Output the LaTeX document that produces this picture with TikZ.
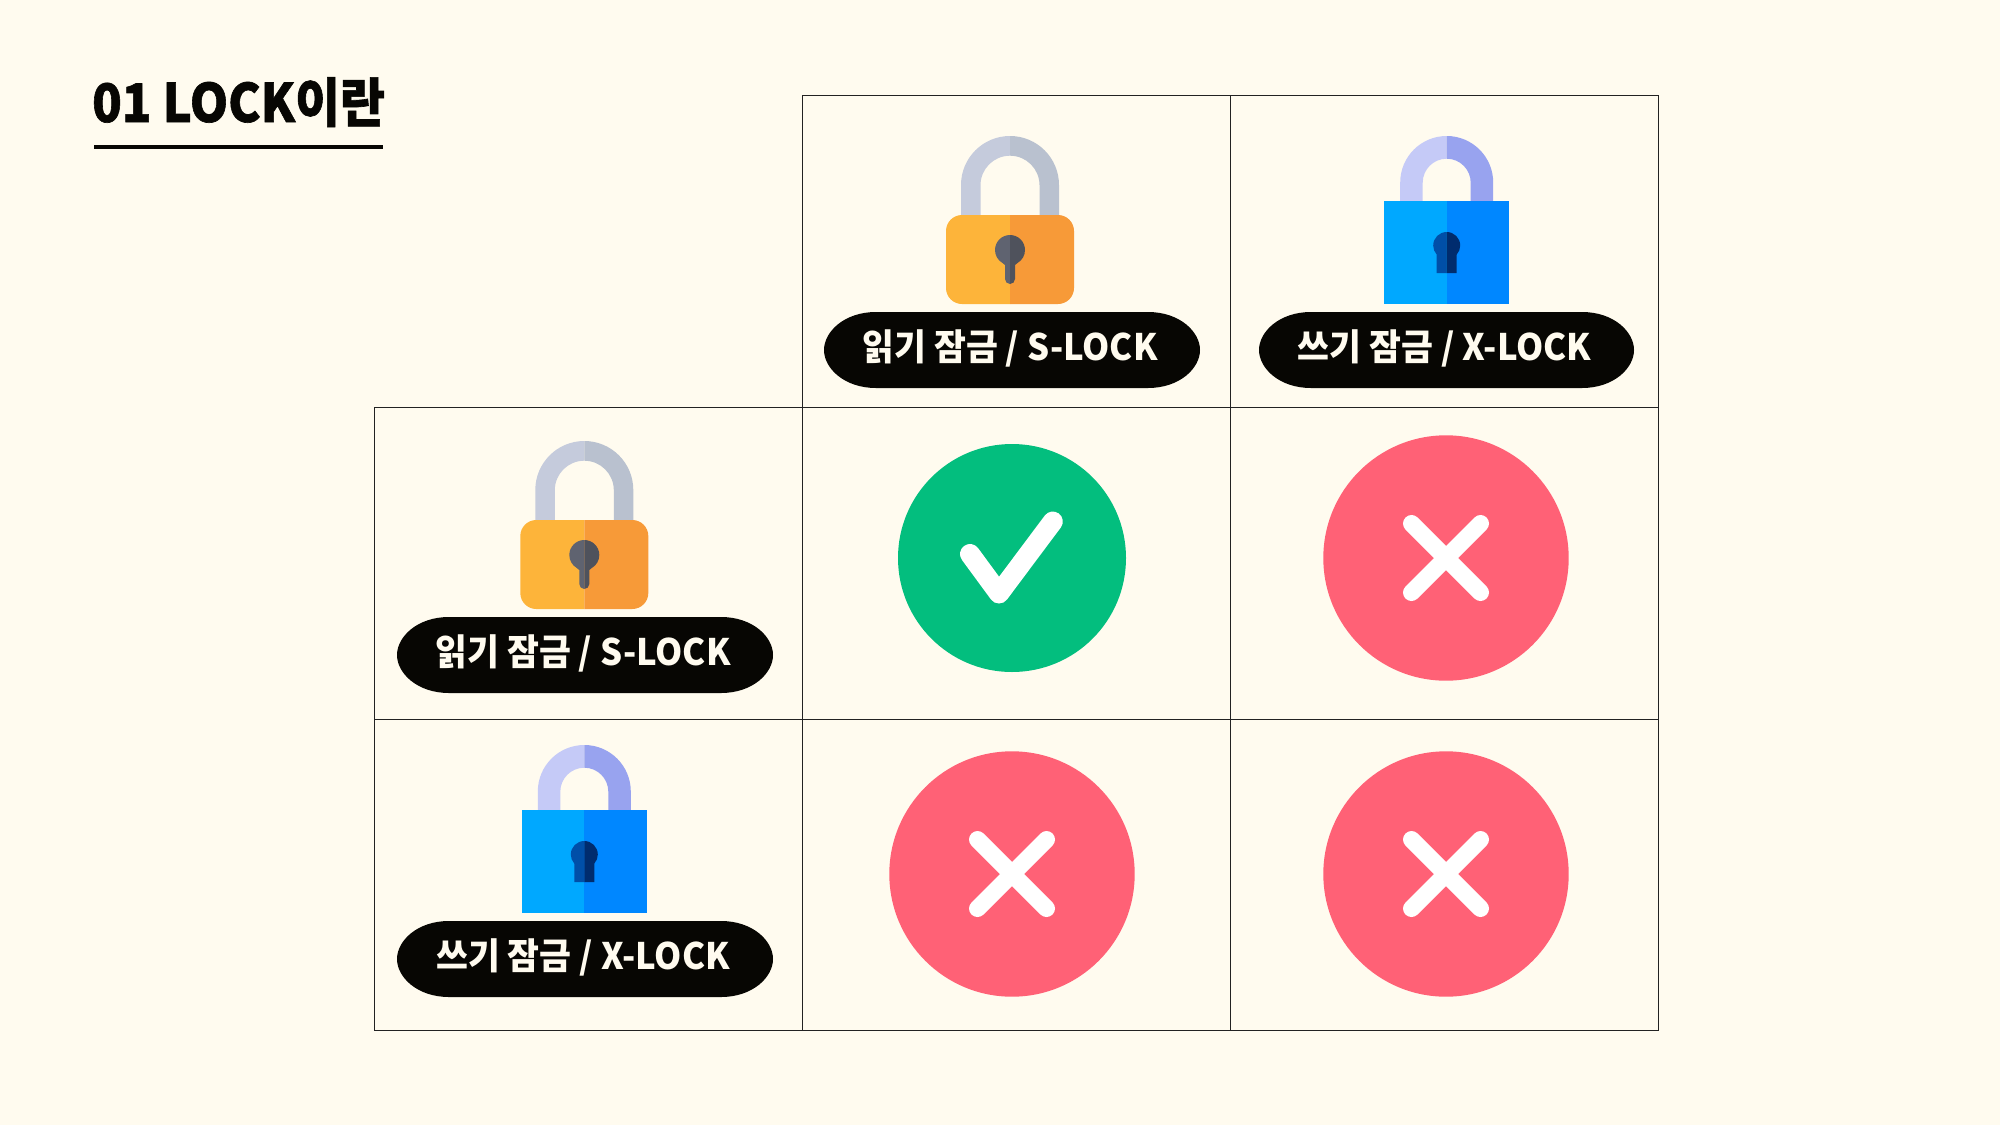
\documentclass[tikz,border=0pt]{standalone}
\usepackage{fontspec}
\newfontfamily\kr{Noto Sans CJK KR}
\newfontfamily\krt{Noto Sans CJK KR}[FakeBold=1.2]
\definecolor{bgc}{HTML}{FFFBEF}
\definecolor{ink}{HTML}{070603}
\definecolor{gridc}{HTML}{222222}
\definecolor{shLa}{HTML}{C5CBDC}
\definecolor{shRa}{HTML}{B9C1CF}
\definecolor{boLa}{HTML}{FDB43A}
\definecolor{boRa}{HTML}{F79A38}
\definecolor{keLa}{HTML}{5F6370}
\definecolor{keRa}{HTML}{4F525C}
\definecolor{shLb}{HTML}{C5CAF7}
\definecolor{shRb}{HTML}{98A3EF}
\definecolor{boLb}{HTML}{00A8FF}
\definecolor{boRb}{HTML}{0087FF}
\definecolor{keLb}{HTML}{004FA8}
\definecolor{keRb}{HTML}{002C6E}
\definecolor{okc}{HTML}{03BE7E}
\definecolor{noc}{HTML}{FF6176}
\tikzset{
  gridline/.style={draw=gridc,line width=1.4pt},
  pilltext/.style={font=\kr\bfseries\fontsize{36.5}{36.5}\selectfont,text=bgc,inner sep=0pt,transform shape,xscale=0.95},
  titletext/.style={font=\krt\bfseries\fontsize{53}{53}\selectfont,text=ink,inner sep=0pt,anchor=base west,transform shape,xscale=0.92},
  markstroke/.style={draw=white,line width=17pt,line cap=round,line join=round},
  checkstroke/.style={draw=white,line width=20pt,line cap=round,line join=round},
}
% #1 cx, #2 half width, #3 y shift, #4 text, #5 node name
\newcommand{\pillshape}[5]{%
  \fill[ink] ({#1-#2+52},{#3+312}) -- ({#1+#2-52},{#3+312})
    .. controls ({#1+#2-20},{#3+312}) and ({#1+#2},{#3+332}) .. ({#1+#2},{#3+350})
    .. controls ({#1+#2},{#3+368}) and ({#1+#2-20},{#3+388}) .. ({#1+#2-52},{#3+388})
    -- ({#1-#2+52},{#3+388})
    .. controls ({#1-#2+20},{#3+388}) and ({#1-#2},{#3+368}) .. ({#1-#2},{#3+350})
    .. controls ({#1-#2},{#3+332}) and ({#1-#2+20},{#3+312}) .. ({#1-#2+52},{#3+312}) -- cycle;
  \node[pilltext] (#5) at ({#1-2},{#3+348.5}) {#4};
}
\newcommand{\slock}[2]{%
  \begin{scope}[shift={(#1,#2)}]
    \fill[shLa] (-49,216) -- (-49,185) arc[start angle=180,end angle=270,radius=49] -- (0,155.7)
       arc[start angle=270,end angle=180,radius=29.5] -- (-29.5,216) -- cycle;
    \fill[shRa] (49,216) -- (49,185) arc[start angle=0,end angle=-90,radius=49] -- (0,155.7)
       arc[start angle=-90,end angle=0,radius=29.5] -- (29.5,216) -- cycle;
    \fill[boLa] (0,215) -- (-48,215) arc[start angle=270,end angle=180,radius=16] -- (-64,288)
       arc[start angle=180,end angle=90,radius=16] -- (0,304) -- cycle;
    \fill[boRa] (0,215) -- (48,215) arc[start angle=-90,end angle=0,radius=16] -- (64,288)
       arc[start angle=0,end angle=90,radius=16] -- (0,304) -- cycle;
    \fill[keLa] (0,235) arc[start angle=270,end angle=120,radius=15] -- (-5,265) -- (-5,279)
       arc[start angle=180,end angle=90,radius=5] -- cycle;
    \fill[keRa] (0,235) arc[start angle=-90,end angle=60,radius=15] -- (5,265) -- (5,279)
       arc[start angle=0,end angle=90,radius=5] -- cycle;
  \end{scope}
}
\newcommand{\xlock}[2]{%
  \begin{scope}[shift={(#1,#2)}]
    \fill[shLb] (-46.5,202) -- (-46.5,182.5) arc[start angle=180,end angle=270,radius=46.5] -- (0,158.7)
       arc[start angle=270,end angle=180,radius=24] -- (-24,202) -- cycle;
    \fill[shRb] (46.5,202) -- (46.5,182.5) arc[start angle=0,end angle=-90,radius=46.5] -- (0,158.7)
       arc[start angle=-90,end angle=0,radius=24] -- (24,202) -- cycle;
    \fill[boLb] (-62.5,201) rectangle (0,304);
    \fill[boRb] (0,201) rectangle (62.5,304);
    \fill[keLb] (0,232) arc[start angle=270,end angle=138,radius=13.5] -- (-10,255) -- (-10,273) -- (0,273) -- cycle;
    \fill[keRb] (0,232) arc[start angle=-90,end angle=42,radius=13.5] -- (10,255) -- (10,273) -- (0,273) -- cycle;
  \end{scope}
}
\newcommand{\nomark}[2]{%
  \fill[noc] (#1,#2) circle[radius=122.7];
  \draw[markstroke] ({#1-34.5},{#2-34.5}) -- ({#1+34.5},{#2+34.5});
  \draw[markstroke] ({#1-34.5},{#2+34.5}) -- ({#1+34.5},{#2-34.5});
}
\begin{document}
\begin{tikzpicture}[x=1pt,y=-1pt]
\useasboundingbox (0,0) rectangle (2000,1125);
\fill[bgc] (0,0) rectangle (2000,1125);
% title
\node[titletext] (title) at (92,122) {01 LOCK이란};
\fill[ink] (94,145) rectangle (383,149);
% grid
\draw[gridline] (802.3,95.5) -- (1658.5,95.5);
\draw[gridline] (374.3,407.5) -- (1658.5,407.5);
\draw[gridline] (374.3,719.5) -- (1658.5,719.5);
\draw[gridline] (374.3,1030.5) -- (1658.5,1030.5);
\draw[gridline] (374.3,407.5) -- (374.3,1030.5);
\draw[gridline] (802.3,95.5) -- (802.3,1030.5);
\draw[gridline] (1230.5,95.5) -- (1230.5,1030.5);
\draw[gridline] (1658.5,95.5) -- (1658.5,1030.5);
% locks
\slock{1010}{0}
\pillshape{1012}{188}{0}{읽기 잠금 / S-LOCK}{pillSa}
\xlock{1446.7}{0}
\pillshape{1446.5}{187.5}{0}{쓰기 잠금 / X-LOCK}{pillXa}
\slock{584.3}{305}
\pillshape{585}{188}{305}{읽기 잠금 / S-LOCK}{pillSb}
\xlock{584.3}{609}
\pillshape{585}{188}{609}{쓰기 잠금 / X-LOCK}{pillXb}
% marks
\fill[okc] (1012,558) circle[radius=114];
\draw[checkstroke] (970,554) -- (999,593.5) -- (1052.8,521.5);
\nomark{1446}{558}
\nomark{1012}{874}
\nomark{1446}{874}
\end{tikzpicture}
\end{document}
